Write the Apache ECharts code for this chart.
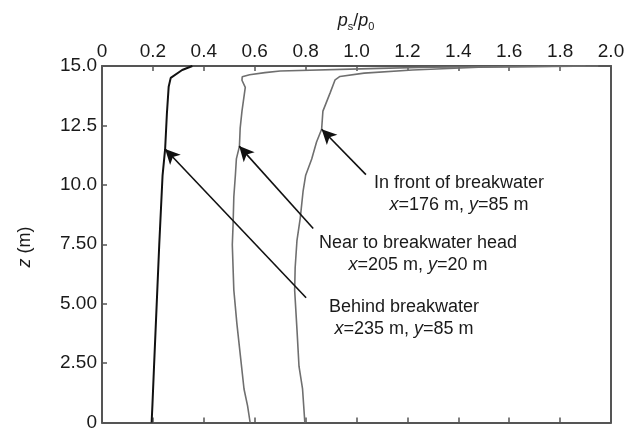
<!DOCTYPE html>
<html>
<head>
<meta charset="utf-8">
<script src="https://cdn.jsdelivr.net/npm/echarts@6/dist/echarts.min.js"></script>
<style>
html,body{margin:0;padding:0;background:#fff;}
#c{width:630px;height:432px;}
</style>
</head>
<body>
<div id="c"></div>
<script>
// ---- data ----
const xTickLabels = ['0','0.2','0.4','0.6','0.8','1.0','1.2','1.4','1.6','1.8','2.0'];
const yTickLabels = ['0','2.50','5.00','7.50','10.0','12.5','15.0'];

// Behind breakwater (black)
const zBehind = [0, 0.7, 2.5, 5.0, 7.5, 10.4, 11.5, 13.0, 14.13, 14.5, 14.83, 15.0];
const pBehind = [0.195, 0.198, 0.205, 0.215, 0.225, 0.238, 0.248, 0.255, 0.262, 0.27, 0.315, 0.355];

// Near to breakwater head (grey)
const zNear = [0, 0.7, 1.41, 2.78, 4.16, 5.57, 7.48, 8.31, 9.5, 10.39, 11.09, 11.62, 12.4, 13.1, 14.1, 14.4, 14.55, 14.63, 14.72, 14.79, 14.9, 14.95, 15.0];
const pNear = [0.582, 0.572, 0.558, 0.544, 0.53, 0.518, 0.512, 0.515, 0.518, 0.524, 0.528, 0.54, 0.543, 0.55, 0.563, 0.55, 0.551, 0.58, 0.64, 0.70, 1.09, 1.29, 1.9];

// In front of breakwater (grey)
const zFront = [0, 1.41, 2.37, 3.74, 5.57, 6.52, 7.65, 8.6, 9.72, 10.39, 11.09, 11.8, 12.34, 13.1, 13.86, 14.42, 14.56, 14.7, 14.83, 14.95, 15.0];
const pFront = [0.797, 0.788, 0.774, 0.767, 0.757, 0.759, 0.766, 0.779, 0.79, 0.80, 0.824, 0.843, 0.863, 0.868, 0.896, 0.916, 0.935, 1.03, 1.22, 1.48, 1.95];

// annotation arrows: [from (text end), to (curve)]
const arrowFrom = [[1.037, 10.43], [0.830, 8.16], [0.802, 5.25]];
const arrowTo   = [[0.863, 12.34], [0.539, 11.63], [0.248, 11.51]];

const annoLine1 = ['In front of breakwater', 'Near to breakwater head', 'Behind breakwater'];
const annoX = ['176', '205', '235'];
const annoY = ['85', '20', '85'];

// ---- chart ----
const toPairs = (ps, zs) => ps.map((p, i) => [p, zs[i]]);
const FONT = 'Liberation Sans, Arial, sans-serif';
const TXT = '#1a1a1a';
const AX = '#555';

const chart = echarts.init(document.getElementById('c'), null, {renderer: 'canvas'});

const arrowData = arrowFrom.map((f, i) => [{coord: f}, {coord: arrowTo[i]}]);

// annotation text positions (pixel centres of the two-line blocks)
const annoPos = [[459, 194], [418, 254], [404, 318]];

const graphics = annoLine1.map((t, i) => ({
  type: 'text',
  x: annoPos[i][0], y: annoPos[i][1],
  style: {
    text: '{n|' + t + '}\n{i|x}{n|=' + annoX[i] + ' m, }{i|y}{n|=' + annoY[i] + ' m}',
    align: 'center', verticalAlign: 'middle',
    fill: TXT,
    rich: {
      n: {fontFamily: FONT, fontSize: 18, lineHeight: 22, fill: TXT},
      i: {fontFamily: FONT, fontSize: 18, lineHeight: 22, fontStyle: 'italic', fill: TXT}
    }
  }
}));

graphics.push({
  type: 'text', x: 356, y: 21,
  style: {
    text: '{i|p}{s|s}{n|/}{i|p}{s|0}',
    align: 'center', verticalAlign: 'middle', fill: TXT,
    rich: {
      i: {fontFamily: FONT, fontSize: 18, fontStyle: 'italic', fill: TXT, lineHeight: 20},
      n: {fontFamily: FONT, fontSize: 18, fill: TXT, lineHeight: 20},
      s: {fontFamily: FONT, fontSize: 11, fill: TXT, padding: [12, 0, 0, 0], lineHeight: 11}
    }
  }
});
graphics.push({
  type: 'text', x: 25, y: 247, rotation: Math.PI / 2,
  style: {
    text: '{i|z}{n| (m)}',
    align: 'center', verticalAlign: 'middle', fill: TXT,
    rich: {
      i: {fontFamily: FONT, fontSize: 18, fontStyle: 'italic', fill: TXT},
      n: {fontFamily: FONT, fontSize: 18, fill: TXT}
    }
  }
});

chart.setOption({
  animation: false,
  backgroundColor: '#fff',
  grid: {left: 102, right: 19, top: 66, bottom: 5, containLabel: false},
  xAxis: [{
    type: 'value', position: 'top', min: 0, max: 2, interval: 0.2,
    axisLine: {show: true, onZero: false, lineStyle: {color: AX, width: 2}},
    axisTick: {show: true, inside: true, length: 5, lineStyle: {color: AX, width: 1.5}},
    axisLabel: {show: true, margin: 5, color: TXT, fontFamily: FONT, fontSize: 19,
      formatter: v => xTickLabels[Math.round(v / 0.2)]},
    splitLine: {show: false}
  }, {
    type: 'value', position: 'bottom', min: 0, max: 2, interval: 0.2,
    axisLine: {show: true, onZero: false, lineStyle: {color: AX, width: 2}},
    axisTick: {show: true, inside: true, length: 5, lineStyle: {color: AX, width: 1.5}},
    axisLabel: {show: false},
    splitLine: {show: false}
  }],
  yAxis: [{
    type: 'value', position: 'left', min: 0, max: 15, interval: 2.5,
    axisLine: {show: true, onZero: false, lineStyle: {color: AX, width: 2}},
    axisTick: {show: true, inside: true, length: 5, lineStyle: {color: AX, width: 1.5}},
    axisLabel: {show: true, margin: 5, color: TXT, fontFamily: FONT, fontSize: 19,
      formatter: v => yTickLabels[Math.round(v / 2.5)]},
    splitLine: {show: false}
  }, {
    type: 'value', position: 'right', min: 0, max: 15, interval: 2.5,
    axisLine: {show: true, onZero: false, lineStyle: {color: AX, width: 2}},
    axisTick: {show: false}, axisLabel: {show: false}, splitLine: {show: false}
  }],
  series: [{
    name: 'Behind breakwater', type: 'line', xAxisIndex: 0, yAxisIndex: 0,
    data: toPairs(pBehind, zBehind), showSymbol: false, symbol: 'none',
    lineStyle: {color: '#111', width: 2}, z: 3,
    markLine: {
      silent: true, symbol: ['none', 'arrow'], symbolSize: [11, 15],
      label: {show: false},
      lineStyle: {color: '#111', width: 1.6, type: 'solid'},
      data: arrowData
    }
  }, {
    name: 'Near to breakwater head', type: 'line', xAxisIndex: 0, yAxisIndex: 0,
    data: toPairs(pNear, zNear), showSymbol: false, symbol: 'none',
    lineStyle: {color: '#6f6f6f', width: 1.6}, z: 2
  }, {
    name: 'In front of breakwater', type: 'line', xAxisIndex: 0, yAxisIndex: 0,
    data: toPairs(pFront, zFront), showSymbol: false, symbol: 'none',
    lineStyle: {color: '#6f6f6f', width: 1.6}, z: 2
  }],
  graphic: graphics
});
</script>
</body>
</html>
